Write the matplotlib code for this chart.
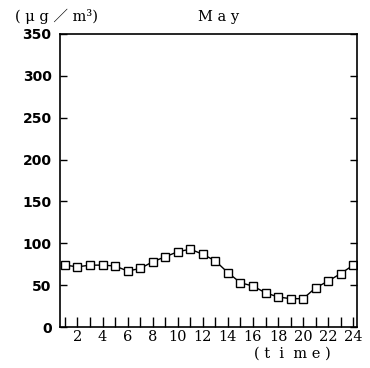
import matplotlib.pyplot as plt
import numpy as np

# hourly mean concentration, May
hours = list(range(1, 25))
conc = [74, 72, 74, 74, 73, 67, 70, 78, 84, 90, 93, 87,
        79, 65, 53, 49, 41, 36, 34, 34, 47, 55, 64, 74]
xtick_labels = [str(h) for h in range(2, 25, 2)]
yticks = [0, 50, 100, 150, 200, 250, 300, 350]

fig = plt.figure(figsize=(3.7, 3.68), dpi=100)
ax = fig.add_axes([0.162, 0.111, 0.803, 0.797])

ax.plot(hours, conc, color='black', lw=1.0,
        marker='s', markersize=5.5, markerfacecolor='white',
        markeredgecolor='black', markeredgewidth=1.0)

ax.set_xlim(0.6, 24.3)
ax.set_ylim(0, 350)

ax.set_xticks(range(1, 25), minor=True)
ax.set_xticks(range(2, 25, 2))
ax.set_xticklabels(xtick_labels, family='DejaVu Serif', fontsize=10.5)
ax.set_yticks(yticks)
ax.set_yticklabels([str(v) for v in yticks], family='DejaVu Sans',
                   fontweight='bold', fontsize=10)

ax.tick_params(axis='x', which='both', direction='in', length=7, width=1,
               pad=2)
ax.tick_params(axis='y', direction='in', length=5, width=1, right=True,
               pad=6)
for s in ax.spines.values():
    s.set_linewidth(1.2)

fig.text(0.04, 0.955, '( μ g ／ m³)',
         family=['DejaVu Serif', 'Noto Sans CJK JP'],
         fontsize=10.5, va='center')
fig.text(0.59, 0.955, 'M a y', family='DejaVu Serif', fontsize=10.5,
         va='center', ha='center')
fig.text(0.79, 0.038, '( t  i  m e )', family='DejaVu Serif', fontsize=10.5,
         va='center', ha='center')

fig.savefig('out.png', dpi=100)
